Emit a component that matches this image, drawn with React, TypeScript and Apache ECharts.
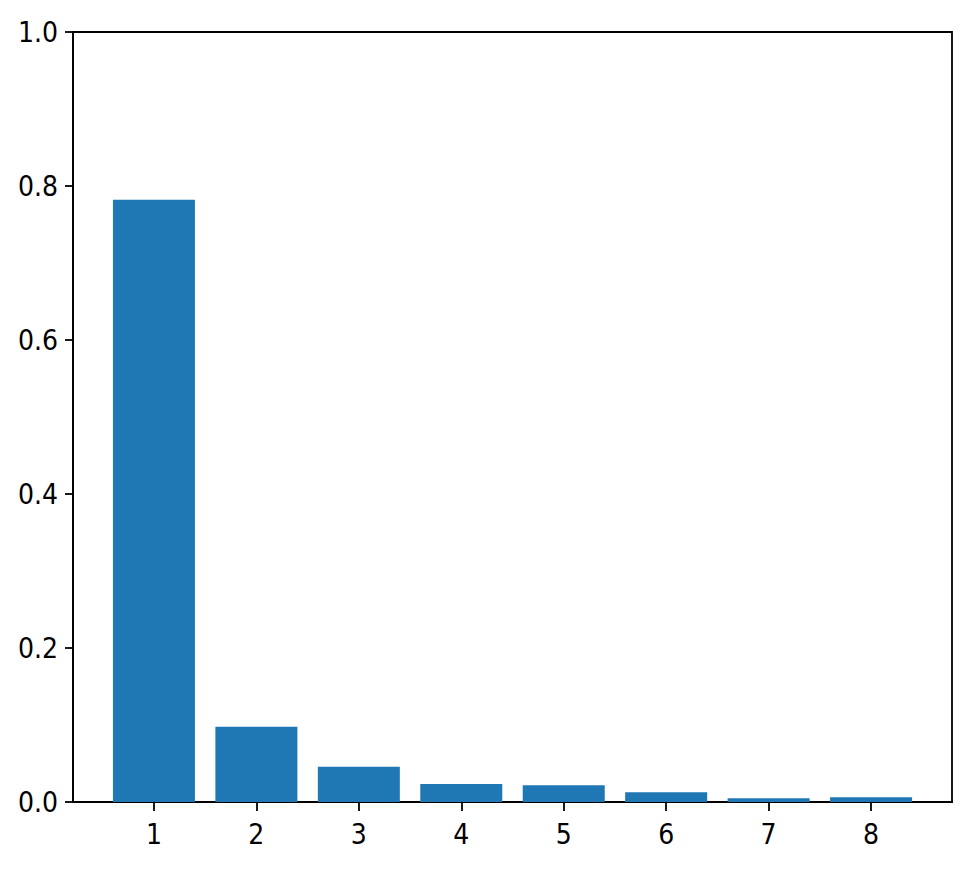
import React, { useEffect, useRef } from "react";
import * as echarts from "echarts";

const categories = [1, 2, 3, 4, 5, 6, 7, 8];
const values = [0.782, 0.0978, 0.0458, 0.0234, 0.0216, 0.0126, 0.0048, 0.0061];
const yTicks = [0, 0.2, 0.4, 0.6, 0.8, 1.0];

const FONT = "'DejaVu Sans Condensed', 'DejaVu Sans', sans-serif";

export default function App() {
  const ref = useRef<HTMLDivElement>(null);
  useEffect(() => {
    document.body.style.margin = "0";
    const chart = echarts.init(ref.current!, null, { renderer: "svg" });
    chart.setOption({
      animation: false,
      backgroundColor: "#fff",
      grid: {
        left: 73,
        top: 32,
        right: 18,
        bottom: 70,
        show: true,
        borderColor: "#000",
        borderWidth: 1.8,
        backgroundColor: "transparent",
      },
      xAxis: {
        type: "value",
        min: 0.21,
        max: 8.79,
        splitLine: { show: false },
        axisLine: { show: true, onZero: false, lineStyle: { color: "#000", width: 1.8 } },
        axisTick: { show: true, length: 9, lineStyle: { color: "#000", width: 1.8 }, customValues: categories },
        axisLabel: {
          customValues: categories,
          formatter: (v: number) => String(Math.round(v)),
          color: "#000",
          fontSize: 28,
          fontFamily: FONT,
          margin: 18,
        },
      },
      yAxis: {
        type: "value",
        min: 0,
        max: 1,
        interval: 0.2,
        splitLine: { show: false },
        axisLine: { show: true, lineStyle: { color: "#000", width: 1.8 } },
        axisTick: { show: true, length: 8, lineStyle: { color: "#000", width: 1.8 }, customValues: yTicks },
        axisLabel: {
          customValues: yTicks,
          formatter: (v: number) => v.toFixed(1),
          color: "#000",
          fontSize: 28,
          fontFamily: FONT,
          margin: 15,
        },
      },
      series: [
        {
          type: "bar",
          data: categories.map((c, i) => [c, values[i]]),
          barWidth: 82,
          itemStyle: { color: "#1f77b4" },
        },
      ],
    });
    return () => chart.dispose();
  }, []);
  return <div ref={ref} style={{ width: 970, height: 872 }} />;
}
